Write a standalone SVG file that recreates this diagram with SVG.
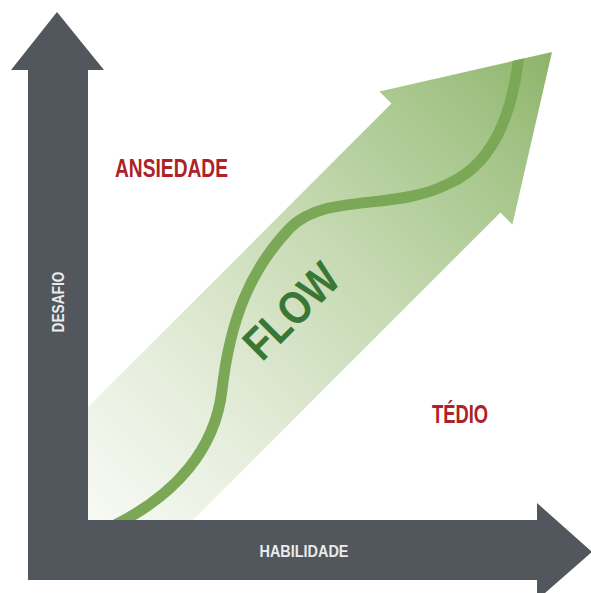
<svg xmlns="http://www.w3.org/2000/svg" width="591" height="593" viewBox="0 0 591 593">
  <defs>
    <style>
      .axis { fill: #52575d; }
      .zone { font-family: "Liberation Sans", Arial, sans-serif; font-weight: bold; fill: #ad2229; }
      .axislabel { font-family: "Liberation Sans", Arial, sans-serif; font-weight: bold; fill: #e9eaeb; font-size: 16px; }
      .flowtext { font-family: "Liberation Sans", Arial, sans-serif; font-weight: bold; fill: #3a7734; font-size: 46px; }
    </style>
    <linearGradient id="bandGrad" gradientUnits="userSpaceOnUse" x1="0" y1="0" x2="-660" y2="0">
      <stop offset="0" stop-color="#8db469"/>
      <stop offset="0.15" stop-color="#a2c386"/>
      <stop offset="0.45" stop-color="#c7dab3"/>
      <stop offset="0.75" stop-color="#e5eddb"/>
      <stop offset="1" stop-color="#f8faf5"/>
    </linearGradient>
    <clipPath id="plotClip">
      <rect x="88" y="0" width="503" height="520"/>
    </clipPath>
    <clipPath id="arrowClip">
      <polygon transform="translate(552,52) rotate(-45)" points="0,0 -150,-94 -150,-77 -700,-77 -700,77 -150,77 -150,94"/>
    </clipPath>
  </defs>

  <g id="flow-arrow" clip-path="url(#plotClip)">
    <polygon transform="translate(552,52) rotate(-45)" fill="url(#bandGrad)" points="0,0 -150,-94 -150,-77 -700,-77 -700,77 -150,77 -150,94"/>
    <path id="flow-curve" clip-path="url(#arrowClip)" d="M 115 525 C 175 495, 215 450, 222 390 C 230 320, 250 270, 290 228 C 325 192, 395 212, 450 183 C 500 160, 515 100, 520 45" fill="none" stroke="#7aa856" stroke-width="11"/>
  </g>

  <g id="axes">
    <polygon class="axis" points="57,12 104,70 88,70 88,520 537,520 537,503 592,552 537,600 537,580 28,580 28,70 11,70"/>
  </g>

  <g id="label-flow">
    <text class="flowtext" transform="translate(291,311) rotate(-45)" x="0" y="16" text-anchor="middle" textLength="114" lengthAdjust="spacingAndGlyphs">FLOW</text>
  </g>
  <g id="label-ansiedade">
    <text class="zone" x="115" y="177" font-size="26" textLength="113" lengthAdjust="spacingAndGlyphs">ANSIEDADE</text>
  </g>
  <g id="label-tedio">
    <text class="zone" x="432" y="423" font-size="25" textLength="56" lengthAdjust="spacingAndGlyphs">TÉDIO</text>
  </g>
  <g id="label-desafio">
    <text class="axislabel" transform="translate(64,302) rotate(-90)" x="0" y="0" text-anchor="middle" textLength="61" lengthAdjust="spacingAndGlyphs">DESAFIO</text>
  </g>
  <g id="label-habilidade">
    <text class="axislabel" x="304" y="557" text-anchor="middle" textLength="89" lengthAdjust="spacingAndGlyphs">HABILIDADE</text>
  </g>
</svg>
